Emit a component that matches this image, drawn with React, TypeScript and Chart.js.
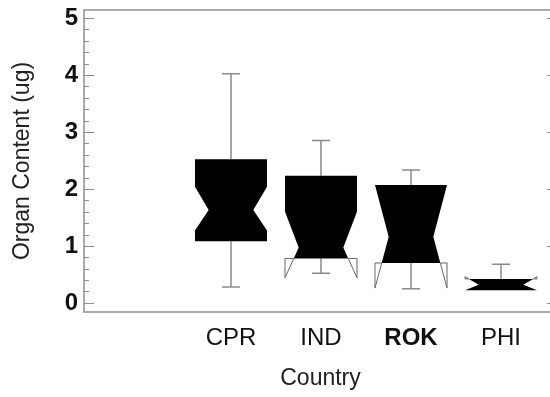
import React, { useEffect, useRef } from 'react';
import { Chart, registerables } from 'chart.js';

Chart.register(...registerables);

// ---- data ----
const categories = ['CPR', 'IND', 'ROK', 'PHI'];
const boldCategory = 'ROK';
const whiskerLow = [0.28, 0.52, 0.25, 0.22];
const q1 = [1.08, 0.78, 0.7, 0.22];
const notchLow = [1.27, 0.44, 0.26, 0.22];
const median = [1.63, 0.97, 1.16, 0.32];
const notchHigh = [2.04, 1.6, 2.07, 0.46];
const q3 = [2.52, 2.23, 2.07, 0.42];
const whiskerHigh = [4.02, 2.85, 2.33, 0.68];
const yTickValues = [0, 1, 2, 3, 4, 5];
const yMinorStep = 0.2;

const FONT = '"Liberation Sans", Arial, Helvetica, sans-serif';
const AXIS_COLOR = '#8e8e8e';
const WHISKER_COLOR = '#8a8a8a';
const BOX_WIDTH = 0.8; // in category units
const CAP_WIDTH = 0.2;
const NOTCH_INSET = 0.19; // fraction of box width

const notchedBoxPlugin = {
  id: 'notchedBoxes',
  afterDatasetsDraw(chart: any) {
    const { ctx, chartArea, scales } = chart;
    const xs = scales.x;
    const ys = scales.y;
    const { left, right, top, bottom } = chartArea;
    ctx.save();

    // frame
    ctx.strokeStyle = AXIS_COLOR;
    ctx.lineWidth = 1.5;
    ctx.beginPath();
    ctx.moveTo(left, top);
    ctx.lineTo(right, top);
    ctx.lineTo(right, bottom);
    ctx.lineTo(left, bottom);
    ctx.closePath();
    ctx.stroke();

    // inward y ticks (left and right)
    ctx.lineWidth = 1.2;
    ctx.beginPath();
    const maxV = yTickValues[yTickValues.length - 1];
    const nMinor = Math.round(maxV / yMinorStep);
    for (let k = 0; k <= nMinor; k++) {
      const v = k * yMinorStep;
      const py = Math.round(ys.getPixelForValue(v)) + 0.5;
      const major = yTickValues.some((t) => Math.abs(t - v) < 1e-6);
      const len = major ? 10 : 5;
      ctx.moveTo(left, py);
      ctx.lineTo(left + len, py);
      ctx.moveTo(right, py);
      ctx.lineTo(right - len, py);
    }
    ctx.stroke();

    categories.forEach((_, i) => {
      const cx = xs.getPixelForValue(i + 1);
      const hw = xs.getPixelForValue(i + 1 + BOX_WIDTH / 2) - cx;
      const capHw = xs.getPixelForValue(i + 1 + CAP_WIDTH / 2) - cx;
      const inset = hw * 2 * NOTCH_INSET;
      const lo = q1[i], hi = q3[i], med = median[i], nlo = notchLow[i], nhi = notchHigh[i];
      const off = (v: number) => {
        if (v <= med && v >= nlo && med > nlo) return (inset * (v - nlo)) / (med - nlo);
        if (v >= med && v <= nhi && nhi > med) return (inset * (nhi - v)) / (nhi - med);
        return 0;
      };

      // whiskers
      ctx.strokeStyle = WHISKER_COLOR;
      ctx.lineWidth = 1.5;
      ctx.beginPath();
      const pHi = ys.getPixelForValue(whiskerHigh[i]);
      const pQ3 = ys.getPixelForValue(hi);
      const pLo = ys.getPixelForValue(whiskerLow[i]);
      const pQ1 = ys.getPixelForValue(lo);
      if (whiskerHigh[i] > hi) {
        ctx.moveTo(cx, pQ3);
        ctx.lineTo(cx, pHi);
        ctx.moveTo(cx - capHw, pHi);
        ctx.lineTo(cx + capHw, pHi);
      }
      if (whiskerLow[i] < lo) {
        ctx.moveTo(cx, pQ1);
        ctx.lineTo(cx, pLo);
        ctx.moveTo(cx - capHw, pLo);
        ctx.lineTo(cx + capHw, pLo);
      }
      ctx.stroke();

      // filled notched box
      const vals = [hi, nhi, med, nlo, lo]
        .filter((v) => v <= hi && v >= lo)
        .sort((a, b) => b - a);
      ctx.fillStyle = '#000';
      ctx.beginPath();
      vals.forEach((v, k) => {
        const px = cx - hw + off(v);
        const py = ys.getPixelForValue(v);
        if (k === 0) ctx.moveTo(px, py);
        else ctx.lineTo(px, py);
      });
      [...vals].reverse().forEach((v) => {
        ctx.lineTo(cx + hw - off(v), ys.getPixelForValue(v));
      });
      ctx.closePath();
      ctx.fill();

      // notch tails outside the box (outline only)
      ctx.strokeStyle = '#666';
      ctx.lineWidth = 1;
      ctx.beginPath();
      if (nlo < lo) {
        const pN = ys.getPixelForValue(nlo);
        const o = off(lo);
        for (const s of [-1, 1]) {
          const ex = cx + s * hw;
          ctx.moveTo(ex - s * o, pQ1);
          ctx.lineTo(ex, pQ1);
          ctx.lineTo(ex, pN);
          ctx.closePath();
        }
      }
      if (nhi > hi) {
        const pN = ys.getPixelForValue(nhi);
        const o = off(hi);
        for (const s of [-1, 1]) {
          const ex = cx + s * hw;
          ctx.moveTo(ex - s * o, pQ3);
          ctx.lineTo(ex, pQ3);
          ctx.lineTo(ex, pN);
          ctx.closePath();
        }
      }
      ctx.stroke();
    });

    ctx.restore();
  },
};

export default function App() {
  const canvasRef = useRef<HTMLCanvasElement | null>(null);

  useEffect(() => {
    if (!canvasRef.current) return;
    const chart = new Chart(canvasRef.current, {
      type: 'scatter',
      data: {
        datasets: [
          {
            data: categories.map((_, i) => ({ x: i + 1, y: median[i] })),
            pointRadius: 0,
            showLine: false,
          },
        ],
      },
      options: {
        responsive: false,
        animation: false,
        layout: { padding: { top: 10, right: 3, bottom: 0, left: 0 } },
        plugins: { legend: { display: false }, tooltip: { enabled: false } },
        scales: {
          x: {
            type: 'linear',
            min: -0.633,
            max: 4.622,
            afterBuildTicks: (s: any) => {
              s.ticks = categories.map((_, i) => ({ value: i + 1 }));
            },
            afterFit: (s: any) => {
              s.height = 85;
              s.paddingLeft = 0;
              s.paddingRight = 0;
            },
            grid: { display: false, drawTicks: false },
            border: { display: false },
            ticks: {
              padding: 12,
              color: '#111',
              maxRotation: 0,
              autoSkip: false,
              font: (c: any) => ({
                family: FONT,
                size: 24,
                weight: categories[c.index] === boldCategory ? 'bold' : 'normal',
              }),
              callback: (v: any) => categories[Number(v) - 1] ?? '',
            },
            title: {
              display: true,
              text: 'Country',
              color: '#222',
              font: { family: FONT, size: 23 },
              padding: { top: 0, bottom: 5 },
            },
          },
          y: {
            type: 'linear',
            min: -0.16,
            max: 5.14,
            afterBuildTicks: (s: any) => {
              s.ticks = yTickValues.map((v) => ({ value: v }));
            },
            afterFit: (s: any) => {
              s.width = 84;
              s.paddingTop = 0;
              s.paddingBottom = 0;
            },
            grid: { display: false, drawTicks: false },
            border: { display: false },
            ticks: {
              padding: 6,
              color: '#111',
              font: { family: FONT, size: 24, weight: 'bold' },
              callback: (v: any) => String(v),
            },
            title: {
              display: true,
              text: 'Organ Content (ug)',
              color: '#222',
              font: { family: FONT, size: 23 },
              padding: { top: 9, bottom: 0 },
            },
          },
        },
      },
      plugins: [notchedBoxPlugin],
    } as any);
    return () => chart.destroy();
  }, []);

  return (
    <div style={{ position: 'fixed', left: 0, top: 0, width: 560, height: 397, background: '#fff' }}>
      <canvas ref={canvasRef} width={560} height={397} style={{ display: 'block' }} />
    </div>
  );
}
